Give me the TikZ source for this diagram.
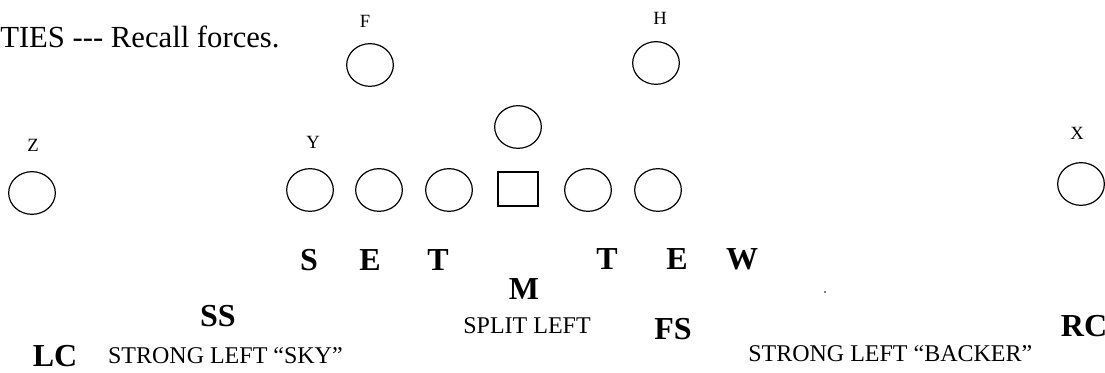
\documentclass[tikz,border=0pt]{standalone}
\usepackage{fontspec}
\setmainfont{Liberation Serif}
\usetikzlibrary{shapes.geometric}
\begin{document}
\begin{tikzpicture}[x=0.75pt,y=-0.75pt,
  player/.style={draw, ellipse, line width=0.9pt, minimum width=35pt, minimum height=32pt, inner sep=0pt},
  ctr/.style={draw, rectangle, line width=0.9pt, minimum width=30pt, minimum height=25.5pt, inner sep=0pt},
  tag/.style={inner sep=0pt, font=\fontsize{14}{14}\selectfont},
  defl/.style={inner sep=0pt, font=\bfseries\fontsize{24}{24}\selectfont},
  note/.style={inner sep=0pt, font=\fontsize{18}{18}\selectfont}]
\useasboundingbox (0,0) rectangle (1105,373);

% heading
\node[anchor=base west, inner sep=0pt, font=\fontsize{23}{23}\selectfont] (title) at (0,48) {TIES -{}-{}- Recall forces.};

% backs
\node[tag] (lF) at (365,21) {F};
\node[player] (pF) at (370,65) {};
\node[tag] (lH) at (660,18) {H};
\node[player] (pH) at (656,63) {};
\node[player] (pQ) at (518,127) {};

% line of scrimmage
\node[tag] (lZ) at (33,145) {Z};
\node[player] (pZ) at (32,193) {};
\node[tag] (lY) at (313,142) {Y};
\node[player] (pY) at (310,190) {};
\node[player] (pL2) at (379,190) {};
\node[player] (pL1) at (449,190) {};
\node[ctr] (pC) at (518,189) {};
\node[player] (pR1) at (588,190) {};
\node[player] (pR2) at (658,190) {};
\node[tag] (lX) at (1077,133) {X};
\node[player] (pX) at (1081,184) {};

% defensive front
\node[defl] (dS) at (309,260) {S};
\node[defl] (dE1) at (370,260) {E};
\node[defl] (dT1) at (438,260) {T};
\node[defl] (dT2) at (607,259) {T};
\node[defl] (dE2) at (677,259) {E};
\node[defl] (dW) at (742,259) {W};
\node[defl] (dM) at (524,289) {M};
\node[note] (nSplit) at (527,326) {SPLIT LEFT};

% secondary
\node[defl] (dSS) at (218,316) {SS};
\node[defl] (dFS) at (673,329) {FS};
\node[defl] (dRC) at (1084,326) {RC};
\node[defl] (dLC) at (55,356) {LC};
\node[note, anchor=east] (nSky) at (343,356) {STRONG LEFT “SKY”};
\node[note, anchor=west] (nBacker) at (748,354) {STRONG LEFT “BACKER”};

\fill (825,292) circle (0.8);
\end{tikzpicture}
\end{document}
